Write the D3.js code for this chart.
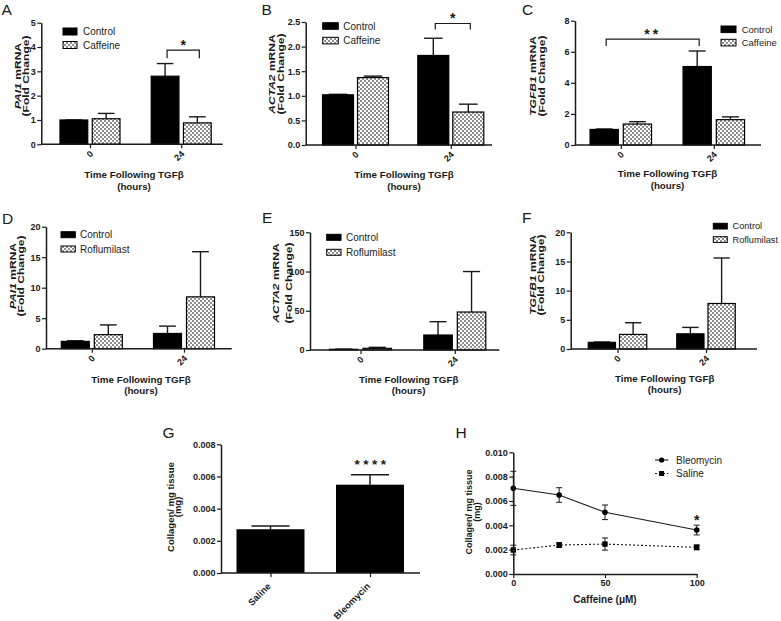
<!DOCTYPE html>
<html><head><meta charset="utf-8">
<script src="https://cdn.jsdelivr.net/npm/d3@7"></script>
<style>html,body{margin:0;padding:0;background:#fff;} svg{display:block;} text{font-family:'Liberation Sans', Arial, Helvetica, sans-serif;}</style>
</head><body>
<svg id="fig" width="781" height="621"></svg>
<script>
// ---------------- DATA ----------------
const timepoints = ["0", "24"];
const caffeineSeries = ["Control", "Caffeine"];
const roflumilastSeries = ["Control", "Roflumilast"];

// Panel A: PAI1, caffeine (index per timepoint 0h, 24h)
const aControl = [1.00, 2.80];
const aControlErr = [0.00, 0.52];
const aCaffeine = [1.05, 0.88];
const aCaffeineErr = [0.22, 0.25];
const aTicks = [0, 1, 2, 3, 4, 5];

// Panel B: ACTA2, caffeine
const bControl = [1.02, 1.82];
const bControlErr = [0.01, 0.35];
const bCaffeine = [1.37, 0.67];
const bCaffeineErr = [0.03, 0.16];
const bTicks = [0, 0.5, 1.0, 1.5, 2.0, 2.5];

// Panel C: TGFB1, caffeine
const cControl = [1.00, 5.05];
const cControlErr = [0.03, 1.00];
const cCaffeine = [1.35, 1.63];
const cCaffeineErr = [0.15, 0.18];
const cTicks = [0, 2, 4, 6, 8];

// Panel D: PAI1, roflumilast
const dControl = [1.2, 2.5];
const dControlErr = [0.1, 1.2];
const dRoflumilast = [2.3, 8.5];
const dRoflumilastErr = [1.6, 7.4];
const dTicks = [0, 5, 10, 15, 20];

// Panel E: ACTA2, roflumilast
const eControl = [0.9, 19.1];
const eControlErr = [0.2, 17.0];
const eRoflumilast = [2.1, 48.4];
const eRoflumilastErr = [1.3, 51.6];
const eTicks = [0, 50, 100, 150];

// Panel F: TGFB1, roflumilast
const fControl = [1.14, 2.6];
const fControlErr = [0.06, 1.1];
const fRoflumilast = [2.5, 7.8];
const fRoflumilastErr = [2.0, 7.8];
const fTicks = [0, 5, 10, 15, 20];

// Panel G: collagen
const gGroups = ["Saline", "Bleomycin"];
const gCollagen = [0.00272, 0.00549];
const gCollagenErr = [0.00020, 0.00062];
const gTicks = [0, 0.002, 0.004, 0.006, 0.008];

// Panel H: collagen vs caffeine dose
const hDoses = [0, 25, 50, 100];
const hBleomycin = [0.00704, 0.00649, 0.00507, 0.00361];
const hBleomycinErr = [0.0014, 0.0006, 0.0006, 0.0004];
const hSaline = [0.00197, 0.00238, 0.00246, 0.00219];
const hSalineErr = [0.0004, 0.0002, 0.0005, 0.0002];
const hYTicks = [0, 0.002, 0.004, 0.006, 0.008, 0.010];
const hXTicks = [0, 50, 100];

// ---------------- DRAWING ----------------
const FONT = "'Liberation Sans', Arial, Helvetica, sans-serif";
const INK = "#1a1a1a";
const svg = d3.select("#fig").style("font-family", FONT);
svg.append("rect").attr("width", 781).attr("height", 621).attr("fill", "#fff");

const defs = svg.append("defs");
const pat = defs.append("pattern").attr("id", "checker")
  .attr("patternUnits", "userSpaceOnUse").attr("width", 4).attr("height", 4);
pat.append("rect").attr("width", 4).attr("height", 4).attr("fill", "#ffffff");
pat.append("rect").attr("width", 2).attr("height", 2).attr("fill", "#8f8f8f");
pat.append("rect").attr("x", 2).attr("y", 2).attr("width", 2).attr("height", 2).attr("fill", "#8f8f8f");

function letter(t, x, y) {
  svg.append("text").attr("x", x).attr("y", y).text(t).attr("font-family", FONT)
    .attr("font-size", 15.5).attr("fill", INK);
}

function styleAxis(sel) {
  sel.select(".domain").attr("stroke", INK).attr("stroke-width", 1.5);
  sel.selectAll(".tick line").attr("stroke", INK).attr("stroke-width", 1.2);
  sel.selectAll(".tick text").attr("fill", INK).attr("font-weight", "bold")
    .attr("font-size", 9).attr("font-family", FONT);
}

function yLabel(g, gene, rest, line2, x1, x2, cy, size, sx) {
  const t1 = g.append("text")
    .attr("transform", `translate(${x1},${cy}) rotate(-90) scale(${sx},1)`)
    .attr("text-anchor", "middle").attr("font-weight", "bold").attr("font-family", FONT)
    .attr("font-size", size).attr("fill", INK);
  if (gene) t1.append("tspan").attr("font-style", "italic").attr("font-family", FONT).text(gene);
  t1.append("tspan").attr("font-family", FONT).text(rest);
  g.append("text")
    .attr("transform", `translate(${x2},${cy}) rotate(-90) scale(${sx},1)`)
    .attr("text-anchor", "middle").attr("font-weight", "bold").attr("font-family", FONT)
    .attr("font-size", size).attr("fill", INK).text(line2);
}

function barPanel(p) {
  const g = svg.append("g");
  const y = d3.scaleLinear().domain([0, p.yMax]).range([p.yBottom, p.yTop]);
  const x = d3.scalePoint().domain(timepoints).range(p.centers);
  const pad = 2 * p.gap / (p.groupW + p.gap);
  const xi = d3.scaleBand().domain(p.series).range([-p.groupW / 2, p.groupW / 2]).paddingInner(pad);
  const rows = [];
  timepoints.forEach((t, i) => p.series.forEach((s, j) =>
    rows.push({ t, s, j, v: p.means[j][i], e: p.errs[j][i] })));

  // error bars (drawn first, bar covers the lower part)
  const capW = xi.bandwidth() * 0.6;
  const eb = g.append("g").attr("stroke", INK).attr("stroke-width", 1.4);
  rows.forEach(d => {
    const cx = x(d.t) + xi(d.s) + xi.bandwidth() / 2;
    eb.append("line").attr("x1", cx).attr("x2", cx).attr("y1", y(d.v)).attr("y2", y(d.v + d.e));
    eb.append("line").attr("x1", cx - capW / 2).attr("x2", cx + capW / 2)
      .attr("y1", y(d.v + d.e)).attr("y2", y(d.v + d.e));
  });

  g.selectAll("rect.bar").data(rows).join("rect").attr("class", "bar")
    .attr("x", d => x(d.t) + xi(d.s)).attr("width", xi.bandwidth())
    .attr("y", d => y(d.v)).attr("height", d => y(0) - y(d.v))
    .attr("fill", d => d.j === 0 ? "#000" : "url(#checker)")
    .attr("stroke", "#000").attr("stroke-width", 1.2);

  // y axis
  const ya = g.append("g").attr("transform", `translate(${p.axisX},0)`)
    .call(d3.axisLeft(y).tickValues(p.ticks).tickFormat(p.fmt).tickSize(4).tickSizeOuter(0).tickPadding(1.5));
  styleAxis(ya);
  // x axis
  const xa = g.append("g").attr("transform", `translate(0,${p.yBottom})`)
    .call(d3.axisBottom(x).tickSize(4).tickSizeOuter(0));
  xa.select(".domain").remove();
  styleAxis(xa);
  xa.selectAll(".tick text").attr("y", 0).attr("dy", "0.35em").attr("text-anchor", "end")
    .attr("transform", "translate(1,8) rotate(-45)");
  g.append("line").attr("x1", p.axisX).attr("x2", p.xEnd)
    .attr("y1", p.yBottom).attr("y2", p.yBottom).attr("stroke", INK).attr("stroke-width", 1.5);

  // legend
  p.series.forEach((s, j) => {
    g.append("rect").attr("x", p.legend.x).attr("y", p.legend.y[j])
      .attr("width", p.legend.w).attr("height", p.legend.h)
      .attr("fill", j === 0 ? "#000" : "url(#checker)").attr("stroke", "#000").attr("stroke-width", 1);
    g.append("text").attr("x", p.legend.tx).attr("y", p.legend.y[j] + p.legend.h / 2)
      .attr("dy", "0.35em").attr("font-size", p.legend.fs || 10).attr("font-family", FONT)
      .attr("fill", "#222").text(s);
  });

  // axis titles
  yLabel(g, p.gene, " mRNA", "(Fold Change)", p.yl[0], p.yl[1], p.yl[2], 9.5, 1.27);
  g.append("text").attr("x", p.xt[0]).attr("y", p.xt[1]).attr("text-anchor", "middle").attr("font-family", FONT)
    .attr("font-weight", "bold").attr("font-size", 9.8).attr("fill", INK).text("Time Following TGFβ");
  g.append("text").attr("x", p.xt[0]).attr("y", p.xt[2]).attr("text-anchor", "middle").attr("font-family", FONT)
    .attr("font-weight", "bold").attr("font-size", 9.8).attr("fill", INK).text("(hours)");

  // significance bracket
  if (p.bracket) {
    const b = p.bracket;
    const cxOf = (t, s) => x(t) + xi(s) + xi.bandwidth() / 2;
    const x1 = cxOf(b.from[0], b.from[1]) + 2, x2 = cxOf(b.to[0], b.to[1]) + 2;
    g.append("path")
      .attr("d", `M${x1},${y(b.drop)}V${y(b.top)}H${x2}V${y(b.drop)}`)
      .attr("fill", "none").attr("stroke", INK).attr("stroke-width", 1.2);
    g.append("text").attr("x", (x1 + x2) / 2).attr("y", y(b.top) - 0.5).attr("font-family", FONT)
      .attr("text-anchor", "middle").attr("font-size", 14).attr("font-weight", "bold")
      .attr("letter-spacing", b.label.length > 1 ? 3 : 0).attr("fill", INK).text(b.label);
  }
}

letter("A", 1.5, 15);
barPanel({
  series: caffeineSeries, means: [aControl, aCaffeine], errs: [aControlErr, aCaffeineErr],
  axisX: 41.3, yTop: 22.7, yBottom: 144.3, xEnd: 222.7, yMax: 5, ticks: aTicks, fmt: d3.format("d"),
  centers: [90, 181.2], groupW: 60, gap: 4.5,
  legend: { x: 63, y: [28, 41.5], w: 14, h: 7, tx: 83 },
  gene: "PAI1", yl: [21.3, 28.5, 76], xt: [134, 177.7, 190],
  bracket: { from: ["24", "Control"], to: ["24", "Caffeine"], top: 3.87, drop: 3.54, label: "*" }
});

letter("B", 261.5, 15);
barPanel({
  series: caffeineSeries, means: [bControl, bCaffeine], errs: [bControlErr, bCaffeineErr],
  axisX: 305.7, yTop: 22, yBottom: 145, xEnd: 492, yMax: 2.5, ticks: bTicks, fmt: d3.format(".1f"),
  centers: [355.5, 450.8], groupW: 66, gap: 4,
  legend: { x: 322.7, y: [22.7, 37.3], w: 15.6, h: 6.6, tx: 343.3 },
  gene: "ACTA2", yl: [275, 283.5, 74], xt: [404, 178.3, 190.3],
  bracket: { from: ["24", "Control"], to: ["24", "Caffeine"], top: 2.47, drop: 2.35, label: "*" }
});

letter("C", 522, 15);
barPanel({
  series: caffeineSeries, means: [cControl, cCaffeine], errs: [cControlErr, cCaffeineErr],
  axisX: 575, yTop: 20.7, yBottom: 145, xEnd: 761, yMax: 8, ticks: cTicks, fmt: d3.format("d"),
  centers: [620.8, 713.8], groupW: 61.5, gap: 5,
  legend: { x: 721, y: [26, 39.3], w: 15, h: 6.6, tx: 741.7, fs: 9.5 },
  gene: "TGFB1", yl: [535.5, 544.5, 76], xt: [667.5, 177.3, 189.3],
  bracket: { from: ["0", "Control"], to: ["24", "Control"], top: 6.82, drop: 6.37, label: "**" }
});

letter("D", 2, 224);
barPanel({
  series: roflumilastSeries, means: [dControl, dRoflumilast], errs: [dControlErr, dRoflumilastErr],
  axisX: 46, yTop: 226.7, yBottom: 348.7, xEnd: 231.7, yMax: 20, ticks: dTicks, fmt: d3.format("d"),
  centers: [91.8, 184], groupW: 61, gap: 5,
  legend: { x: 61, y: [231.7, 246], w: 14.3, h: 6, tx: 80 },
  gene: "PAI1", yl: [16, 23.5, 276], xt: [141, 382.7, 394.3]
});

letter("E", 262, 223);
barPanel({
  series: roflumilastSeries, means: [eControl, eRoflumilast], errs: [eControlErr, eRoflumilastErr],
  axisX: 310, yTop: 232.3, yBottom: 350, xEnd: 499.3, yMax: 150, ticks: eTicks, fmt: d3.format("d"),
  centers: [360.5, 454.8], groupW: 62, gap: 5,
  legend: { x: 326.7, y: [234.3, 249.3], w: 14.3, h: 6, tx: 346 },
  gene: "ACTA2", yl: [279, 292, 283], xt: [408.7, 383.3, 394.3]
});

letter("F", 522, 223);
barPanel({
  series: roflumilastSeries, means: [fControl, fRoflumilast], errs: [fControlErr, fRoflumilastErr],
  axisX: 570.7, yTop: 232.3, yBottom: 349, xEnd: 757, yMax: 20, ticks: fTicks, fmt: d3.format("d"),
  centers: [617.5, 706], groupW: 58.5, gap: 4,
  legend: { x: 713.3, y: [223.3, 236.7], w: 14, h: 5.7, tx: 732.5, fs: 9.2 },
  gene: "TGFB1", yl: [535.5, 543.5, 275], xt: [664.7, 381.7, 392.7]
});

// ---------- Panel G ----------
letter("G", 162.5, 438);
(function () {
  const g = svg.append("g");
  const y = d3.scaleLinear().domain([0, 0.008]).range([573, 444.3]);
  const x = d3.scalePoint().domain(gGroups).range([270.5, 370]);
  const bw = 68;
  const rows = gGroups.map((k, i) => ({ k, v: gCollagen[i], e: gCollagenErr[i] }));
  const capW = bw * 0.56;
  rows.forEach(d => {
    g.append("line").attr("x1", x(d.k)).attr("x2", x(d.k)).attr("y1", y(d.v)).attr("y2", y(d.v + d.e))
      .attr("stroke", INK).attr("stroke-width", 1.5);
    g.append("line").attr("x1", x(d.k) - capW / 2).attr("x2", x(d.k) + capW / 2)
      .attr("y1", y(d.v + d.e)).attr("y2", y(d.v + d.e)).attr("stroke", INK).attr("stroke-width", 1.5);
  });
  g.selectAll("rect.bar").data(rows).join("rect")
    .attr("x", d => x(d.k) - bw / 2).attr("width", bw)
    .attr("y", d => y(d.v)).attr("height", d => y(0) - y(d.v)).attr("fill", "#000");
  const ya = g.append("g").attr("transform", "translate(221,0)")
    .call(d3.axisLeft(y).tickValues(gTicks).tickFormat(d3.format(".3f")).tickSize(4).tickSizeOuter(0).tickPadding(1.5));
  styleAxis(ya);
  const xa = g.append("g").attr("transform", "translate(0,573)")
    .call(d3.axisBottom(x).tickSize(4).tickSizeOuter(0));
  xa.select(".domain").remove();
  styleAxis(xa);
  xa.selectAll(".tick text").attr("y", 0).attr("dy", "0.35em").attr("text-anchor", "end")
    .attr("font-size", 9.3).attr("transform", "translate(-2,11.5) rotate(-45)");
  g.append("line").attr("x1", 221).attr("x2", 420).attr("y1", 573).attr("y2", 573)
    .attr("stroke", INK).attr("stroke-width", 1.5);
  yLabel(g, null, "Collagen/ mg tissue", "(mg)", 173.5, 181, 507, 9.5, 1);
  g.append("text").attr("x", x("Bleomycin") + 2).attr("y", y(gCollagen[1] + gCollagenErr[1]) - 6)
    .attr("text-anchor", "middle").attr("font-size", 13.5).attr("font-weight", "bold").attr("font-family", FONT)
    .attr("letter-spacing", 3.5).attr("fill", INK).text("****");
})();

// ---------- Panel H ----------
letter("H", 455.5, 438);
(function () {
  const g = svg.append("g");
  const x = d3.scaleLinear().domain([0, 100]).range([513.3, 696.7]);
  const y = d3.scaleLinear().domain([0, 0.010]).range([574, 452.3]);
  const series = [
    { name: "Bleomycin", m: hBleomycin, e: hBleomycinErr, dash: null, shape: "circle" },
    { name: "Saline", m: hSaline, e: hSalineErr, dash: "2,2", shape: "square" }
  ];
  const line = d3.line().x(d => x(d[0])).y(d => y(d[1]));
  series.forEach(s => {
    const pts = hDoses.map((d, i) => [d, s.m[i], s.e[i]]);
    g.append("path").attr("d", line(pts)).attr("fill", "none").attr("stroke", INK)
      .attr("stroke-width", 1.1).attr("stroke-dasharray", s.dash);
    pts.forEach(p => {
      const cx = x(p[0]);
      g.append("line").attr("x1", cx).attr("x2", cx).attr("y1", y(p[1] - p[2])).attr("y2", y(p[1] + p[2]))
        .attr("stroke", INK).attr("stroke-width", 1);
      [p[1] - p[2], p[1] + p[2]].forEach(v => g.append("line").attr("x1", cx - 3).attr("x2", cx + 3)
        .attr("y1", y(v)).attr("y2", y(v)).attr("stroke", INK).attr("stroke-width", 1));
      if (s.shape === "circle") g.append("circle").attr("cx", cx).attr("cy", y(p[1])).attr("r", 2.8).attr("fill", "#000");
      else g.append("rect").attr("x", cx - 2.7).attr("y", y(p[1]) - 2.7).attr("width", 5.4).attr("height", 5.4).attr("fill", "#000");
    });
  });
  const ya = g.append("g").attr("transform", "translate(513.3,0)")
    .call(d3.axisLeft(y).tickValues(hYTicks).tickFormat(d3.format(".3f")).tickSize(4).tickSizeOuter(0).tickPadding(1.5));
  styleAxis(ya);
  const xa = g.append("g").attr("transform", "translate(0,574)")
    .call(d3.axisBottom(x).tickValues(hXTicks).tickFormat(d3.format("d")).tickSize(4).tickSizeOuter(0).tickPadding(2));
  styleAxis(xa);
  yLabel(g, null, "Collagen/ mg tissue", "(mg)", 472, 479.5, 512, 9, 1);
  g.append("text").attr("x", 605).attr("y", 602.5).attr("text-anchor", "middle").attr("font-family", FONT)
    .attr("font-weight", "bold").attr("font-size", 10).attr("fill", INK).text("Caffeine (μM)");
  g.append("text").attr("x", x(100)).attr("y", y(hBleomycin[3] + hBleomycinErr[3]) - 0.5).attr("font-family", FONT)
    .attr("text-anchor", "middle").attr("font-size", 14).attr("font-weight", "bold").attr("fill", INK).text("*");
  // legend
  const ly = [460, 473.5];
  series.forEach((s, i) => {
    g.append("line").attr("x1", 655).attr("x2", 668.3).attr("y1", ly[i]).attr("y2", ly[i])
      .attr("stroke", INK).attr("stroke-width", 1.1).attr("stroke-dasharray", s.dash);
    if (s.shape === "circle") g.append("circle").attr("cx", 661.6).attr("cy", ly[i]).attr("r", 2.6).attr("fill", "#000");
    else g.append("rect").attr("x", 659.1).attr("y", ly[i] - 2.5).attr("width", 5).attr("height", 5).attr("fill", "#000");
    g.append("text").attr("x", 676).attr("y", ly[i]).attr("dy", "0.35em").attr("font-size", 10).attr("font-family", FONT)
      .attr("fill", "#222").text(s.name);
  });
})();
</script>
</body></html>
